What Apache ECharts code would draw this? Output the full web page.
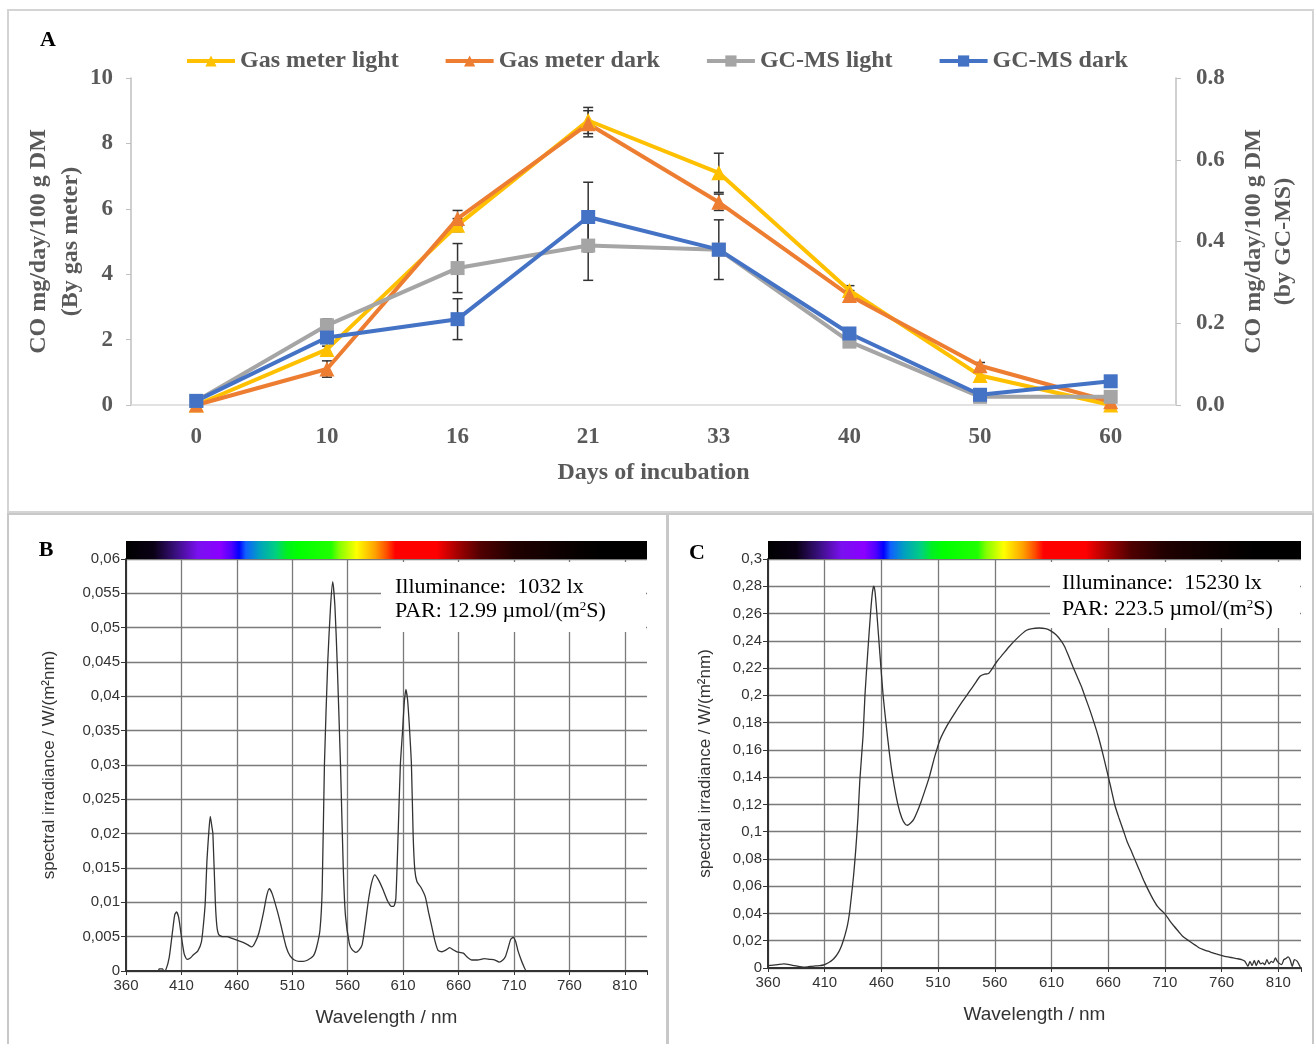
<!DOCTYPE html>
<html>
<head>
<meta charset="utf-8">
<script src="https://cdn.jsdelivr.net/npm/echarts@6/dist/echarts.min.js"></script>
<style>
  html, body { margin: 0; padding: 0; background: #fff; }
  #chart { width: 1315px; height: 1044px; }
</style>
</head>
<body>
<div id="chart"></div>
<script>
// ---- panel A: CO production ----
const days = ['0', '10', '16', '21', '33', '40', '50', '60'];
const gasLight = [0.0, 1.7, 5.5, 8.7, 7.1, 3.5, 0.9, 0.0];
const gasDark = [0.0, 1.1, 5.7, 8.6, 6.2, 3.35, 1.2, 0.1];
const gcLight = [0.01, 0.195, 0.335, 0.39, 0.38, 0.155, 0.02, 0.02];
const gcDark = [0.01, 0.165, 0.21, 0.46, 0.38, 0.175, 0.025, 0.058];
const gasLightErr = [0, 0.1, 0.2, 0.4, 0.6, 0.15, 0.1, 0];
const gasDarkErr = [0, 0.25, 0.25, 0.4, 0.25, 0.15, 0.1, 0];
const gcLightErr = [0, 0.015, 0.06, 0.085, 0.01, 0.01, 0.005, 0.005];
const gcDarkErr = [0, 0.01, 0.05, 0.085, 0.073, 0.01, 0.005, 0.005];

// ---- panel B: spectrum, low light ----
const bWave = [360, 380, 389, 390, 393, 394, 396, 399, 402, 404, 405.6, 407.5, 410, 412.5, 415, 418, 421, 424.7, 428, 430,
  431.5, 433, 434.6, 436, 437.5, 438.4, 440.6, 442, 443.7, 447, 451, 455, 460, 465, 470, 473.3, 476, 479.8, 484, 487,
  489.3, 492, 496.9, 500, 504.5, 508, 512, 516, 519.8, 524, 529, 532, 535, 537, 539, 542, 544.5, 546.5, 548.5, 550.5,
  553.5, 556, 558, 561.5, 564, 567.3, 570, 573, 576, 578.7, 581.5, 584.4, 588, 592, 596, 599.6, 601.5, 603.4, 605.5, 607.5,
  609.5, 611, 612.5, 614, 615.5, 617.5, 619, 620.5, 622.5, 626, 630, 633, 635.8, 638.5, 641.5, 645, 648, 652, 655, 658.6,
  664.3, 668, 672, 677, 683.3, 688, 692.8, 696.6, 700, 702.3, 705, 707, 709.2, 711.5, 713.5, 715.6, 718, 721.4, 760, 830];
const bIrr = [0, 0, 0, 0.0003, 0.0003, 0, 0.0002, 0.002, 0.0058, 0.0082, 0.0086, 0.0078, 0.005, 0.0025, 0.0017, 0.0019, 0.0024, 0.0029, 0.0042, 0.007,
  0.01, 0.016, 0.02, 0.0225, 0.021, 0.02, 0.01, 0.0065, 0.0053, 0.005, 0.005, 0.0048, 0.0045, 0.0042, 0.0038, 0.0035, 0.004, 0.0055, 0.0085, 0.011,
  0.012, 0.0112, 0.0085, 0.0065, 0.0035, 0.0022, 0.0016, 0.0014, 0.0014, 0.0016, 0.0022, 0.0035, 0.006, 0.012, 0.03, 0.045, 0.053, 0.0567, 0.053, 0.045,
  0.03, 0.015, 0.008, 0.004, 0.0031, 0.0027, 0.003, 0.0038, 0.007, 0.0103, 0.0128, 0.014, 0.0132, 0.0118, 0.0102, 0.0094, 0.0094, 0.0105, 0.02, 0.03,
  0.035, 0.039, 0.041, 0.0395, 0.036, 0.03, 0.02, 0.0148, 0.013, 0.0122, 0.0108, 0.0085, 0.0065, 0.0045, 0.003, 0.0028, 0.003, 0.0034, 0.0031, 0.0028,
  0.0026, 0.002, 0.0016, 0.0016, 0.0018, 0.0017, 0.0016, 0.0013, 0.0016, 0.0021, 0.0035, 0.0046, 0.0049, 0.0043, 0.003, 0.002, 0.001, 0, 0, 0];

// ---- panel C: spectrum, high light ----
const cWave = [360, 368.6, 374, 379, 383.4, 388, 391, 395, 398.3, 402, 405.7, 409, 411.3, 414, 417, 420, 422.5, 424.5, 426.2, 428,
  430, 431.8, 433.6, 435.5, 437.4, 439.3, 441, 443.8, 445.5, 448, 450.4, 452, 453.3, 454.5, 456, 458.7, 461.5, 464, 467, 470,
  474.5, 478, 481, 483.1, 486, 488.5, 491.3, 495, 498.7, 502.4, 507, 511.7, 518, 524.7, 531, 537.8, 542, 547, 551, 554.5,
  558, 562, 567, 573, 580.5, 588, 593, 599, 604.7, 609, 614, 618, 621.4, 625, 628.9, 632.5, 636.3, 640, 643.7, 647.5,
  651.2, 655, 658.6, 662, 666, 669.5, 673.5, 677, 681, 684.5, 688.4, 692, 695.8, 699.5, 703.3, 706.5, 710, 714, 718.1, 722,
  725.6, 729.3, 733, 736.7, 740.4, 744, 747.9, 751.6, 755.3, 759, 762.7, 766.4, 770.2, 774, 777.6, 780.5, 783.2, 785, 786.9, 788.8,
  790.6, 792.5, 794.3, 796.2, 798, 799.9, 801.8, 803.7, 805.5, 807.4, 809, 810.4, 813, 814.8, 816.7, 818.6, 820.4, 822.3, 824.2, 826.7, 829.7];
const cIrr = [0.0017, 0.0025, 0.003, 0.0025, 0.0017, 0.001, 0.0007, 0.0009, 0.0012, 0.0015, 0.0017, 0.0022, 0.003, 0.0042, 0.006, 0.0088, 0.012, 0.0155, 0.0196, 0.0245,
  0.031, 0.04, 0.053, 0.068, 0.087, 0.11, 0.138, 0.17, 0.2, 0.232, 0.26, 0.275, 0.28, 0.275, 0.26, 0.23, 0.2, 0.18, 0.158, 0.14,
  0.12, 0.11, 0.1055, 0.1047, 0.1065, 0.109, 0.114, 0.122, 0.131, 0.1406, 0.155, 0.1675, 0.178, 0.187, 0.195, 0.203, 0.208, 0.214, 0.2155, 0.216,
  0.22, 0.225, 0.23, 0.236, 0.2425, 0.2477, 0.249, 0.2494, 0.2489, 0.2475, 0.2445, 0.2405, 0.236, 0.229, 0.221, 0.214, 0.2066, 0.198, 0.1895, 0.18,
  0.17, 0.158, 0.1455, 0.1335, 0.119, 0.11, 0.1005, 0.092, 0.0846, 0.0775, 0.07, 0.063, 0.0564, 0.0505, 0.0453, 0.0425, 0.0397, 0.035, 0.0306, 0.0268,
  0.0233, 0.021, 0.0189, 0.0168, 0.0147, 0.0135, 0.0123, 0.0113, 0.0103, 0.0094, 0.0086, 0.008, 0.0074, 0.0068, 0.0061, 0.005, 0.0012, 0.0049, 0.0017, 0.0056,
  0.0017, 0.0056, 0.003, 0.0037, 0.0025, 0.0061, 0.003, 0.0049, 0.004, 0.0074, 0.005, 0.0037, 0.0025, 0.0061, 0.007, 0.0081, 0.0061, 0.0012, 0.0061, 0.0049, 0];

// spectrum colour bar stops (wavelength -> colour)
const barWave = [360, 385, 405, 425, 445, 455, 462, 468, 480, 495, 505, 515, 545, 552, 568, 585, 595, 603, 640, 660, 680, 710, 760, 790, 830];
const barColor = ['#000000', '#0a0015', '#3a1080', '#7a10f0', '#8a00ff', '#5000ff', '#0000ff', '#1060ff', '#00a0c0', '#00d080',
  '#00f020', '#00ff00', '#20ff00', '#80ff00', '#ffff00', '#ffa000', '#ff5000', '#ff0000', '#ff0000', '#a00000',
  '#500000', '#200000', '#0a0000', '#000000', '#000000'];

const chart = echarts.init(document.getElementById('chart'));

const serif = 'Liberation Serif';
const sans = 'Liberation Sans';
const greyText = '#595959';

function errorBarItem(params, api) {
  const x = api.value(0), y = api.value(1), e = api.value(2);
  if (!e) return null;
  const hi = api.coord([x, y + e]);
  const lo = api.coord([x, y - e]);
  const style = { stroke: '#333', lineWidth: 1.5 };
  return {
    type: 'group',
    children: [
      { type: 'line', shape: { x1: hi[0], y1: hi[1], x2: lo[0], y2: lo[1] }, style },
      { type: 'line', shape: { x1: hi[0] - 5, y1: hi[1], x2: hi[0] + 5, y2: hi[1] }, style },
      { type: 'line', shape: { x1: lo[0] - 5, y1: lo[1], x2: lo[0] + 5, y2: lo[1] }, style }
    ]
  };
}

function barStops() {
  const lo = barWave[0], hi = barWave[barWave.length - 1];
  return barWave.map((w, i) => ({ offset: (w - lo) / (hi - lo), color: barColor[i] }));
}

function colorBarItem(params, api) {
  const a = api.coord([api.value(0), api.value(2)]);
  const b = api.coord([api.value(1), api.value(2)]);
  return {
    type: 'rect',
    shape: { x: a[0], y: a[1] - 18, width: b[0] - a[0], height: 18 },
    style: { fill: new echarts.graphic.LinearGradient(0, 0, 1, 0, barStops()) }
  };
}

function errSeries(name, vals, errs, yIdx) {
  return {
    name: name + ' err',
    type: 'custom',
    xAxisIndex: 0,
    yAxisIndex: yIdx,
    renderItem: errorBarItem,
    encode: { x: 0, y: 1 },
    z: 3,
    data: vals.map((v, i) => [i, v, errs[i]])
  };
}

function lineA(name, vals, color, symbol, yIdx) {
  return {
    name: name,
    type: 'line',
    xAxisIndex: 0,
    yAxisIndex: yIdx,
    data: vals,
    symbol: symbol,
    symbolSize: symbol === 'triangle' ? 15 : 14,
    lineStyle: { color: color, width: 4 },
    itemStyle: { color: color },
    z: 4
  };
}

function specXAxis(grid) {
  return {
    gridIndex: grid, type: 'value', min: 360, max: 830, interval: 50,
    name: 'Wavelength / nm', nameLocation: 'middle', nameGap: 37,
    nameTextStyle: { fontFamily: sans, fontSize: 19, color: '#333' },
    axisLine: { lineStyle: { color: '#333', width: 2 } },
    axisTick: { length: 4, lineStyle: { color: '#333' } },
    axisLabel: { fontFamily: sans, fontSize: 15, color: '#333', margin: 7,
      formatter: v => ((v - 360) % 50 === 0 ? String(v) : '') },
    splitLine: { show: true, showMaxLine: false, lineStyle: { color: '#7a7a7a', width: 1.3 } }
  };
}

function specYAxis(grid, max, interval, digits, gap) {
  return {
    gridIndex: grid, type: 'value', min: 0, max: max, interval: interval,
    name: 'spectral irradiance / W/(m²nm)', nameLocation: 'middle', nameGap: gap,
    nameTextStyle: { fontFamily: sans, fontSize: 17, color: '#333' },
    axisLine: { show: true, lineStyle: { color: '#333', width: 2 } },
    axisTick: { show: true, length: 5, lineStyle: { color: '#333' } },
    axisLabel: { fontFamily: sans, fontSize: 15, color: '#333', margin: 6,
      formatter: v => String(+v.toFixed(digits)).replace('.', ',') },
    splitLine: { show: true, lineStyle: { color: '#7a7a7a', width: 1.3 } }
  };
}

const option = {
  animation: false,
  backgroundColor: '#fff',
  grid: [
    { left: 131, top: 78, width: 1045, height: 327 },
    { left: 126, top: 559, width: 521, height: 412 },
    { left: 768, top: 559, width: 533, height: 409 }
  ],
  legend: {
    data: ['Gas meter light', 'Gas meter dark', 'GC-MS light', 'GC-MS dark'],
    left: 180, top: 44,
    itemWidth: 48, itemHeight: 14, itemGap: 45,
    lineStyle: { width: 4 },
    textStyle: { fontFamily: serif, fontWeight: 'bold', fontSize: 24, color: greyText }
  },
  xAxis: [
    {
      gridIndex: 0, type: 'category', data: days, boundaryGap: true,
      name: 'Days of incubation', nameLocation: 'middle', nameGap: 56,
      nameTextStyle: { fontFamily: serif, fontWeight: 'bold', fontSize: 24, color: greyText },
      axisLine: { lineStyle: { color: '#d9d9d9', width: 1.5 } },
      axisTick: { show: false },
      axisLabel: { fontFamily: serif, fontWeight: 'bold', fontSize: 23, color: greyText, margin: 21 }
    },
    specXAxis(1),
    specXAxis(2)
  ],
  yAxis: [
    {
      gridIndex: 0, type: 'value', min: 0, max: 10, interval: 2, position: 'left',
      name: 'CO mg/day/100 g DM\n(By gas meter)', nameLocation: 'middle', nameGap: 44, nameMoveOverlap: false,
      nameTextStyle: { fontFamily: serif, fontWeight: 'bold', fontSize: 24, color: greyText, lineHeight: 32 },
      axisLine: { show: true, lineStyle: { color: '#bfbfbf', width: 1.5 } },
      axisTick: { show: true, length: 5, lineStyle: { color: '#bfbfbf' } },
      axisLabel: { fontFamily: serif, fontWeight: 'bold', fontSize: 23, color: greyText, margin: 18 },
      splitLine: { show: false }
    },
    {
      gridIndex: 0, type: 'value', min: 0, max: 0.8, interval: 0.2, position: 'right',
      name: 'CO mg/day/100 g DM\n(by GC-MS)', nameLocation: 'middle', nameGap: 63, nameRotate: 90,
      nameTextStyle: { fontFamily: serif, fontWeight: 'bold', fontSize: 24, color: greyText, lineHeight: 30 },
      axisLine: { show: true, lineStyle: { color: '#bfbfbf', width: 1.5 } },
      axisTick: { show: true, length: 5, lineStyle: { color: '#bfbfbf' } },
      axisLabel: { fontFamily: serif, fontWeight: 'bold', fontSize: 23, color: greyText, margin: 20,
        formatter: v => v.toFixed(1) },
      splitLine: { show: false }
    },
    specYAxis(1, 0.06, 0.005, 3, 68),
    specYAxis(2, 0.3, 0.02, 2, 54)
  ],
  series: [
    errSeries('Gas meter light', gasLight, gasLightErr, 0),
    errSeries('Gas meter dark', gasDark, gasDarkErr, 0),
    errSeries('GC-MS light', gcLight, gcLightErr, 1),
    errSeries('GC-MS dark', gcDark, gcDarkErr, 1),
    lineA('Gas meter light', gasLight, '#ffc000', 'triangle', 0),
    lineA('Gas meter dark', gasDark, '#ed7d31', 'triangle', 0),
    lineA('GC-MS light', gcLight, '#a5a5a5', 'rect', 1),
    lineA('GC-MS dark', gcDark, '#4472c4', 'rect', 1),
    {
      name: 'bar B', type: 'custom', xAxisIndex: 1, yAxisIndex: 2, clip: false,
      renderItem: colorBarItem, encode: { x: [0, 1], y: 2 }, data: [[360, 830, 0.06]]
    },
    {
      name: 'bar C', type: 'custom', xAxisIndex: 2, yAxisIndex: 3, clip: false,
      renderItem: colorBarItem, encode: { x: [0, 1], y: 2 }, data: [[360, 830, 0.3]]
    },
    {
      name: 'spectrum B', type: 'line', xAxisIndex: 1, yAxisIndex: 2, showSymbol: false, smooth: 0.2,
      lineStyle: { color: '#333', width: 1.3 }, z: 10,
      data: bWave.map((w, i) => [w, bIrr[i]])
    },
    {
      name: 'spectrum C', type: 'line', xAxisIndex: 2, yAxisIndex: 3, showSymbol: false, smooth: 0.2,
      lineStyle: { color: '#333', width: 1.3 }, z: 10,
      data: cWave.map((w, i) => [w, cIrr[i]])
    }
  ],
  graphic: [
    { type: 'rect', z: 0, shape: { x: 8, y: 10, width: 1305, height: 502 }, style: { fill: 'none', stroke: '#d4d4d4', lineWidth: 2 } },
    { type: 'rect', z: 0, shape: { x: 8, y: 514, width: 659, height: 540 }, style: { fill: 'none', stroke: '#c8c8c8', lineWidth: 2 } },
    { type: 'rect', z: 0, shape: { x: 668, y: 514, width: 645, height: 540 }, style: { fill: 'none', stroke: '#c8c8c8', lineWidth: 2 } },
    { type: 'text', x: 48, y: 40, style: { text: 'A', font: 'bold 22px "Liberation Serif"', fill: '#000', align: 'center', verticalAlign: 'middle' } },
    { type: 'text', x: 46, y: 550, style: { text: 'B', font: 'bold 22px "Liberation Serif"', fill: '#000', align: 'center', verticalAlign: 'middle' } },
    { type: 'text', x: 697, y: 553, style: { text: 'C', font: 'bold 22px "Liberation Serif"', fill: '#000', align: 'center', verticalAlign: 'middle' } },
    { type: 'rect', z: 5, shape: { x: 381, y: 562, width: 265, height: 70 }, style: { fill: '#fff' } },
    { type: 'rect', z: 5, shape: { x: 1050, y: 562, width: 250, height: 66 }, style: { fill: '#fff' } },
    { type: 'text', z: 6, x: 395, y: 587, style: { text: 'Illuminance:  1032 lx', font: '22px "Liberation Serif"', fill: '#000', verticalAlign: 'middle' } },
    { type: 'text', z: 6, x: 395, y: 611, style: { text: 'PAR: 12.99 µmol/(m{s|2}S)', font: '22px "Liberation Serif"', fill: '#000', verticalAlign: 'middle',
      rich: { s: { fontFamily: serif, fontSize: 13, verticalAlign: 'top', lineHeight: 13 } } } },
    { type: 'text', z: 6, x: 1062, y: 583, style: { text: 'Illuminance:  15230 lx', font: '22px "Liberation Serif"', fill: '#000', verticalAlign: 'middle' } },
    { type: 'text', z: 6, x: 1062, y: 609, style: { text: 'PAR: 223.5 µmol/(m{s|2}S)', font: '22px "Liberation Serif"', fill: '#000', verticalAlign: 'middle',
      rich: { s: { fontFamily: serif, fontSize: 13, verticalAlign: 'top', lineHeight: 13 } } } }
  ]
};

chart.setOption(option);
</script>
</body>
</html>
